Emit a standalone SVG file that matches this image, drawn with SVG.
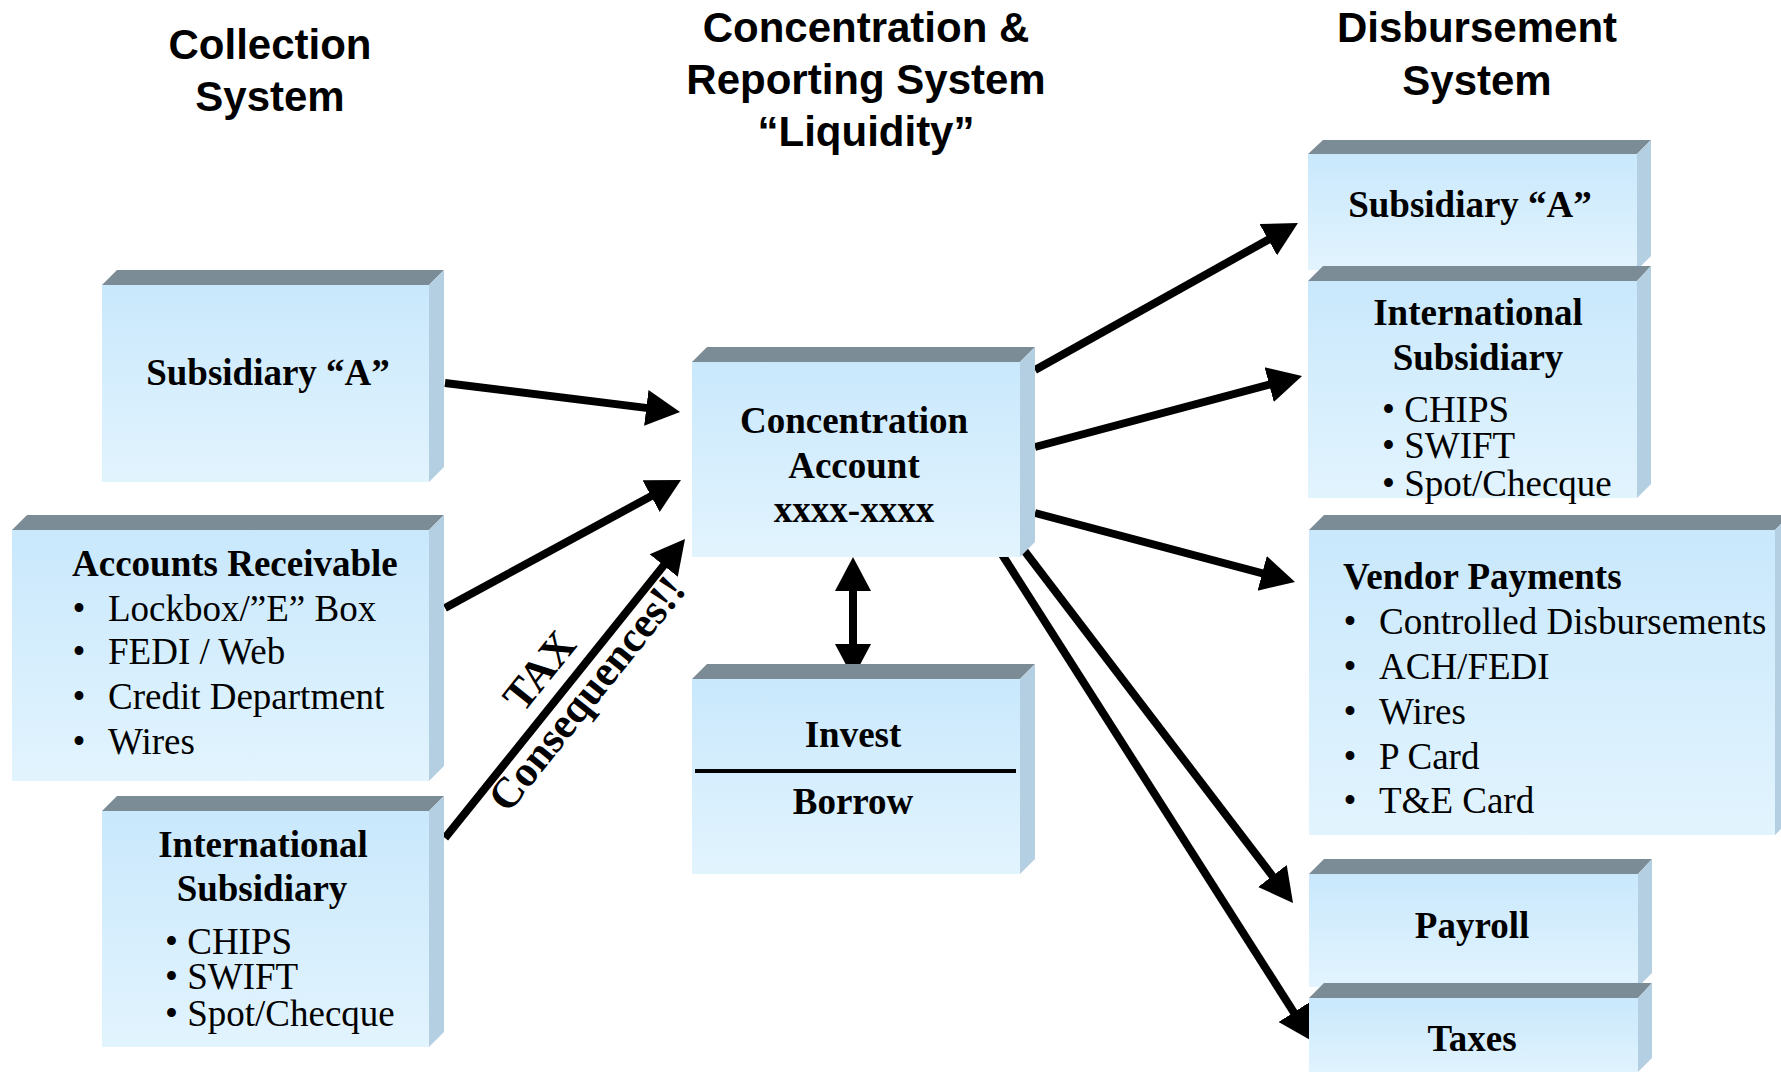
<svg xmlns="http://www.w3.org/2000/svg" width="1781" height="1072" viewBox="0 0 1781 1072">
<defs>
<linearGradient id="face" x1="0" y1="0" x2="0" y2="1">
<stop offset="0" stop-color="#c9e8fc"/>
<stop offset="1" stop-color="#e2f4fe"/>
</linearGradient>
<marker id="ah" markerUnits="userSpaceOnUse" markerWidth="36" markerHeight="38" refX="14" refY="19" orient="auto-start-reverse" viewBox="0 0 36 38">
<path d="M0,1 L34,19 L0,37 Z" fill="#000"/>
</marker>
<style>
.top{fill:#7b8c97}
.side{fill:#b3cfe1}
.front{fill:url(#face)}
.h{font-family:"Liberation Sans",Arial,sans-serif;font-weight:bold;font-size:42px;fill:#000;text-anchor:middle}
.b{font-family:"Liberation Serif","Times New Roman",serif;font-weight:bold;font-size:37px;fill:#000}
.r{font-family:"Liberation Serif","Times New Roman",serif;font-size:37px;fill:#000}
.m{text-anchor:middle}
.t{font-size:43px}
.c{stroke:#000;stroke-width:8;fill:none;marker-end:url(#ah)}
</style>
</defs>
<rect width="1781" height="1072" fill="#fff"/>

<g id="headings">
<text class="h" x="270" y="59">Collection</text>
<text class="h" x="270" y="111">System</text>
<text class="h" x="866" y="42">Concentration &amp;</text>
<text class="h" x="866" y="94">Reporting System</text>
<text class="h" x="866" y="146">“Liquidity”</text>
<text class="h" x="1477" y="42">Disbursement</text>
<text class="h" x="1477" y="95">System</text>
</g>

<g id="connectors">
<path class="c" d="M445,383 L660.2,409.6"/>
<path class="c" d="M445,608 L663.4,489.5"/>
<path class="c" d="M445,838 L672.5,554.6"/>
<path class="c" d="M1035,370 L1280.5,232.8"/>
<path class="c" d="M1035,447 L1282.7,381.1"/>
<path class="c" d="M1035,513 L1275.7,576.9"/>
<path class="c" d="M1020,545 L1280.9,887.1"/>
<path class="c" d="M996,545 L1301.3,1024.1"/>
<path class="c" d="M853,577 L853,658" marker-start="url(#ah)"/>
<g transform="translate(567,688) rotate(-51.3)">
<text class="b m t" x="-4" y="-18">TAX</text>
<text class="b m t" x="8" y="33">Consequences!!</text>
</g>
</g>

<g id="n-sub-a-left">
<polygon class="top" points="102,285 117,270 444,270 429,285"/>
<polygon class="side" points="429,285 444,270 444,467 429,482"/>
<rect class="front" x="102" y="285" width="327" height="197"/>
<text class="b m" x="268" y="385">Subsidiary “A”</text>
</g>

<g id="n-ar">
<polygon class="top" points="12,530 27,515 444,515 429,530"/>
<polygon class="side" points="429,530 444,515 444,766 429,781"/>
<rect class="front" x="12" y="530" width="417" height="251"/>
<text class="b" x="72" y="576">Accounts Receivable</text>
<text class="r m" x="79" y="621">•</text><text class="r" x="108" y="621">Lockbox/”E” Box</text>
<text class="r m" x="79" y="664">•</text><text class="r" x="108" y="664">FEDI / Web</text>
<text class="r m" x="79" y="709">•</text><text class="r" x="108" y="709">Credit Department</text>
<text class="r m" x="79" y="754">•</text><text class="r" x="108" y="754">Wires</text>
</g>

<g id="n-intl-left">
<polygon class="top" points="102,811 117,796 444,796 429,811"/>
<polygon class="side" points="429,811 444,796 444,1032 429,1047"/>
<rect class="front" x="102" y="811" width="327" height="236"/>
<text class="b m" x="263" y="857">International</text>
<text class="b m" x="262" y="901">Subsidiary</text>
<text class="r" x="165" y="954">• CHIPS</text>
<text class="r" x="165" y="989">• SWIFT</text>
<text class="r" x="165" y="1026">• Spot/Checque</text>
</g>

<g id="n-conc">
<polygon class="top" points="692,362 707,347 1035,347 1020,362"/>
<polygon class="side" points="1020,362 1035,347 1035,542 1020,557"/>
<rect class="front" x="692" y="362" width="328" height="195"/>
<text class="b m" x="854" y="433">Concentration</text>
<text class="b m" x="854" y="478">Account</text>
<text class="b m" x="854" y="522">xxxx-xxxx</text>
</g>

<g id="n-invest">
<polygon class="top" points="692,679 707,664 1035,664 1020,679"/>
<polygon class="side" points="1020,679 1035,664 1035,859 1020,874"/>
<rect class="front" x="692" y="679" width="328" height="195"/>
<text class="b m" x="853" y="747">Invest</text>
<line x1="695" y1="771" x2="1016" y2="771" stroke="#000" stroke-width="4"/>
<text class="b m" x="853" y="814">Borrow</text>
</g>

<g id="n-sub-a-right">
<polygon class="top" points="1308,154 1323,140 1651,140 1637,154"/>
<polygon class="side" points="1637,154 1651,140 1651,256 1637,270"/>
<rect class="front" x="1308" y="154" width="329" height="116"/>
<text class="b m" x="1470" y="217">Subsidiary “A”</text>
</g>

<g id="n-intl-right">
<polygon class="top" points="1308,281 1323,266 1651,266 1637,281"/>
<polygon class="side" points="1637,281 1651,266 1651,484 1637,498"/>
<rect class="front" x="1308" y="281" width="329" height="217"/>
<text class="b m" x="1478" y="325">International</text>
<text class="b m" x="1478" y="370">Subsidiary</text>
<text class="r" x="1382" y="422">• CHIPS</text>
<text class="r" x="1382" y="458">• SWIFT</text>
<text class="r" x="1382" y="496">• Spot/Checque</text>
</g>

<g id="n-vendor">
<polygon class="top" points="1309,530 1324,515 1790,515 1775,530"/>
<polygon class="side" points="1775,530 1790,515 1790,820 1775,835"/>
<rect class="front" x="1309" y="530" width="466" height="305"/>
<text class="b" x="1343" y="589">Vendor Payments</text>
<text class="r m" x="1350" y="634">•</text><text class="r" x="1379" y="634">Controlled Disbursements</text>
<text class="r m" x="1350" y="679">•</text><text class="r" x="1379" y="679">ACH/FEDI</text>
<text class="r m" x="1350" y="724">•</text><text class="r" x="1379" y="724">Wires</text>
<text class="r m" x="1350" y="769">•</text><text class="r" x="1379" y="769">P Card</text>
<text class="r m" x="1350" y="813">•</text><text class="r" x="1379" y="813">T&amp;E Card</text>
</g>

<g id="n-payroll">
<polygon class="top" points="1309,874 1324,859 1652,859 1638,874"/>
<polygon class="side" points="1638,874 1652,859 1652,973 1638,987"/>
<rect class="front" x="1309" y="874" width="329" height="113"/>
<text class="b m" x="1472" y="938">Payroll</text>
</g>

<g id="n-taxes">
<polygon class="top" points="1309,998 1324,983 1652,983 1638,998"/>
<polygon class="side" points="1638,998 1652,983 1652,1058 1638,1072"/>
<rect class="front" x="1309" y="998" width="329" height="80"/>
<text class="b m" x="1472" y="1051">Taxes</text>
</g>
</svg>
